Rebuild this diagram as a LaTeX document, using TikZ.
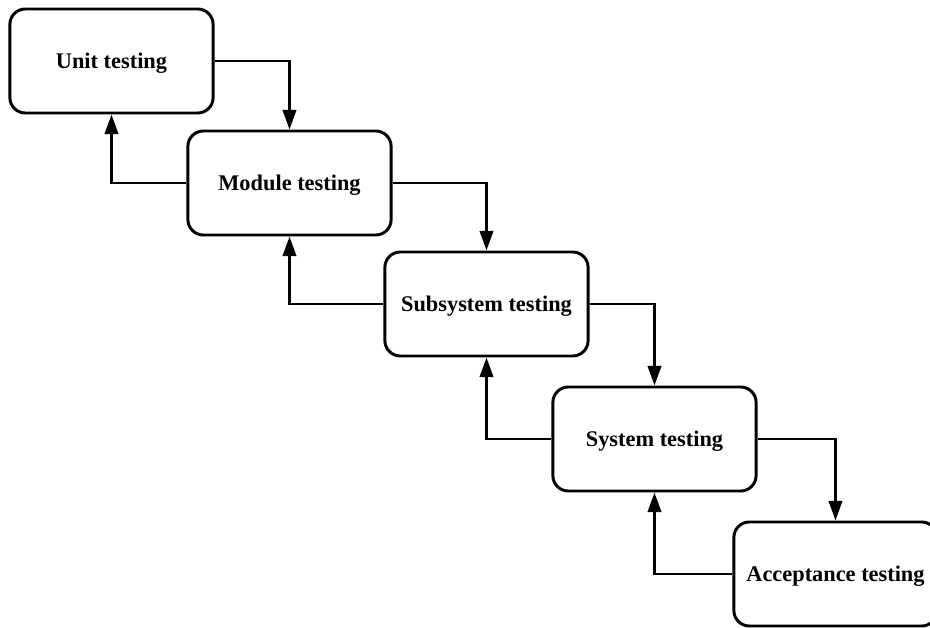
\documentclass[tikz,border=0pt]{standalone}
\usepackage{fontspec}
\setmainfont{Liberation Serif}
\usetikzlibrary{arrows.meta}

\tikzset{
  stage/.style={draw,line width=2.1pt,rounded corners=11pt,minimum width=5.08cm,
    minimum height=2.6cm,inner sep=0pt,text depth=0pt,
    font=\fontsize{15.9}{18}\selectfont\bfseries},
  link/.style={line width=2.1pt,-{Triangle[length=14pt,width=9.5pt]}}
}

\begin{document}
\begin{tikzpicture}[x=0.025cm,y=-0.025cm]
    \useasboundingbox (0,0) rectangle (930,628);
    \node[stage](unit) at (111.5,61){Unit testing};
    \node[stage](module) at (289.5,183){Module testing};
    \node[stage](subsys) at (486.5,304){Subsystem testing};
    \node[stage](system) at (654.5,439){System testing};
    \node[stage](accept) at (835.5,574){Acceptance testing};
    \foreach \p/\q in {unit/module,module/subsys,subsys/system,system/accept}{
    \draw[link] (\p.east) -| (\q.north);
    \draw[link] (\q.west) -| (\p.south);
    }
\end{tikzpicture}
\end{document}
